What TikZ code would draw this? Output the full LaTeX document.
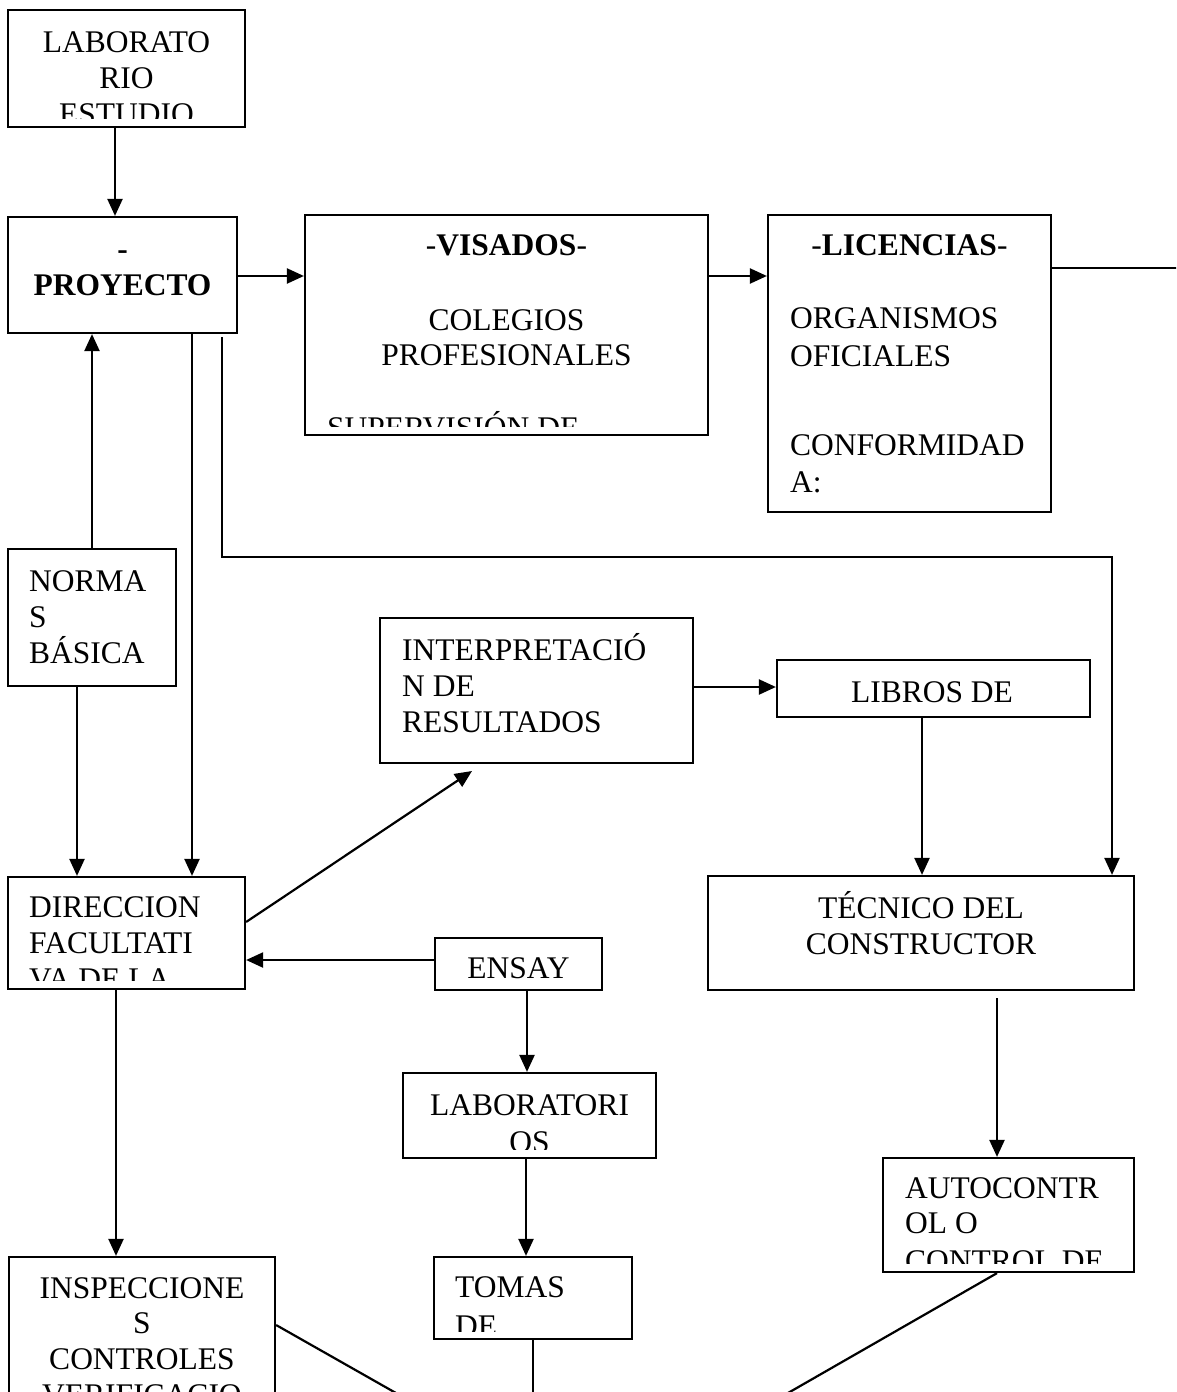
\documentclass[tikz,border=0pt]{standalone}
\usepackage{fontspec}
\setmainfont{Liberation Serif}
\usetikzlibrary{arrows.meta,fit,calc}
\begin{document}
\begin{tikzpicture}[x=1pt,y=-1pt,
  box/.style={draw, line width=2.2pt, inner sep=0pt, rectangle},
  txt/.style={inner sep=0pt, anchor=base, font=\fontsize{31.5}{36}\selectfont},
  txtl/.style={txt, anchor=base west},
  link/.style={line width=2.2pt},
  arr/.style={link, -{Triangle[length=17pt,width=15pt]}}]
\clip (0,0) rectangle (1176,1392);

% ---------- boxes ----------
\node[box, fit={(8,10) (245,127)}] (lab) {};
\node[box, fit={(8,217) (237,333)}] (proy) {};
\node[box, fit={(305,215) (708,435)}] (vis) {};
\node[box, fit={(768,215) (1051,512)}] (lic) {};
\node[box, fit={(8,549) (176,686)}] (norm) {};
\node[box, fit={(380,618) (693,763)}] (interp) {};
\node[box, fit={(777,660) (1090,717)}] (libros) {};
\node[box, fit={(8,877) (245,989)}] (dir) {};
\node[box, fit={(435,938) (602,990)}] (ens) {};
\node[box, fit={(708,876) (1134,990)}] (tec) {};
\node[box, fit={(403,1073) (656,1158)}] (labs) {};
\node[box, fit={(434,1257) (632,1339)}] (tomas) {};
\node[box, fit={(9,1257) (275,1430)}] (insp) {};
\node[box, fit={(883,1158) (1134,1272)}] (auto) {};

% ---------- box texts (cut off above the lower border) ----------
\begin{scope}
  \clip (lab.north west) rectangle ([yshift=10pt]lab.south east);
  \node[txt] (lab-a) at (126.5,52) {LABORATO};
  \node[txt] (lab-b) at (126.5,88) {RIO};
  \node[txt] (lab-c) at (126.5,124) {ESTUDIO};
\end{scope}
\begin{scope}
  \clip (proy.north west) rectangle ([yshift=10pt]proy.south east);
  \node[txt] (proy-a) at (122.5,259) {\textbf{-}};
  \node[txt] (proy-b) at (122.5,295) {\textbf{PROYECTO}};
\end{scope}
\begin{scope}
  \clip (vis.north west) rectangle ([yshift=10pt]vis.south east);
  \node[txt] (vis-a) at (506.5,255) {-\textbf{VISADOS}-};
  \node[txt] (vis-b) at (506.5,330) {COLEGIOS};
  \node[txt] (vis-c) at (506.5,365) {PROFESIONALES};
  \node[txtl] (vis-d) at (327,438) {SUPERVISIÓN DE};
\end{scope}
\begin{scope}
  \clip (lic.north west) rectangle ([yshift=10pt]lic.south east);
  \node[txt] (lic-a) at (909.5,255) {-\textbf{LICENCIAS}-};
  \node[txtl] (lic-b) at (790,328) {ORGANISMOS};
  \node[txtl] (lic-c) at (790,366) {OFICIALES};
  \node[txtl] (lic-d) at (790,455) {CONFORMIDAD};
  \node[txtl] (lic-e) at (790,492) {A:};
\end{scope}
\begin{scope}
  \clip (norm.north west) rectangle ([yshift=10pt]norm.south east);
  \node[txtl] (norm-a) at (29,591) {NORMA};
  \node[txtl] (norm-b) at (29,627) {S};
  \node[txtl] (norm-c) at (29,663) {BÁSICA};
\end{scope}
\begin{scope}
  \clip (interp.north west) rectangle ([yshift=10pt]interp.south east);
  \node[txtl] (interp-a) at (402,660) {INTERPRETACIÓ};
  \node[txtl] (interp-b) at (402,696) {N DE};
  \node[txtl] (interp-c) at (402,732) {RESULTADOS};
\end{scope}
\node[txt] (libros-a) at (932,702) {LIBROS DE};
\begin{scope}
  \clip (dir.north west) rectangle ([yshift=10pt]dir.south east);
  \node[txtl] (dir-a) at (29,917) {DIRECCION};
  \node[txtl] (dir-b) at (29,953) {FACULTATI};
  \node[txtl] (dir-c) at (29,989) {VA DE LA};
\end{scope}
\node[txt] (ens-a) at (518.5,978) {ENSAY};
\node[txt] (tec-a) at (921,918) {TÉCNICO DEL};
\node[txt] (tec-b) at (921,954) {CONSTRUCTOR};
\begin{scope}
  \clip (labs.north west) rectangle ([yshift=10pt]labs.south east);
  \node[txt] (labs-a) at (529.5,1115) {LABORATORI};
  \node[txt] (labs-b) at (529.5,1152) {OS};
\end{scope}
\begin{scope}
  \clip (tomas.north west) rectangle ([yshift=9pt]tomas.south east);
  \node[txtl] (tomas-a) at (455,1297) {TOMAS};
  \node[txtl] (tomas-b) at (455,1336) {DE};
\end{scope}
\node[txt] (insp-a) at (142,1298) {INSPECCIONE};
\node[txt] (insp-b) at (142,1333) {S};
\node[txt] (insp-c) at (142,1369) {CONTROLES};
\node[txt] (insp-d) at (142,1405) {VERIFICACIO};
\begin{scope}
  \clip (auto.north west) rectangle ([yshift=10pt]auto.south east);
  \node[txtl] (auto-a) at (905,1198) {AUTOCONTR};
  \node[txtl] (auto-b) at (905,1233) {OL O};
  \node[txtl] (auto-c) at (905,1271) {CONTROL DE};
\end{scope}

% ---------- guides for connector positions ----------
\coordinate (gx1) at (115,0);
\coordinate (gx2) at (92,0);
\coordinate (gx3) at (77,0);
\coordinate (gx4) at (192,0);
\coordinate (gx6) at (922,0);
\coordinate (gx7) at (527,0);
\coordinate (gx8) at (526,0);
\coordinate (gx9) at (116,0);
\coordinate (gx10) at (533,0);
\coordinate (gx11) at (997,0);
\coordinate (gy1) at (0,276);
\coordinate (gy2) at (0,268);
\coordinate (gy3) at (0,687);
\coordinate (gy4) at (0,922);
\coordinate (gy5) at (0,960);
\coordinate (gy6) at (0,1325);
\coordinate (licend) at (1190,268);
\coordinate (prstart) at (222,337);
\coordinate (bend1) at (222,557);
\coordinate (bend2) at (1112,557);
\coordinate (tecout) at (997,998);
\coordinate (interpin) at (472,771);
\coordinate (inspend) at (403,1397);
\coordinate (tomasend) at (533,1400);
\coordinate (autoend) at (781,1397);

% ---------- connectors ----------
\draw[arr] (lab.south -| gx1) -- (proy.north -| gx1);
\draw[arr] (proy.east |- gy1) -- (vis.west |- gy1);
\draw[arr] (vis.east |- gy1) -- (lic.west |- gy1);
\draw[link] (lic.east |- gy2) -- (licend);
\draw[arr] (norm.north -| gx2) -- (proy.south -| gx2);
\draw[arr] (norm.south -| gx3) -- (dir.north -| gx3);
\draw[arr] (proy.south -| gx4) -- (dir.north -| gx4);
\draw[arr] (prstart) -- (bend1) -- (bend2) -- (tec.north -| bend2);
\draw[arr] (interp.east |- gy3) -- (libros.west |- gy3);
\draw[arr] (libros.south -| gx6) -- (tec.north -| gx6);
\draw[arr] (dir.east |- gy4) -- (interpin);
\draw[arr] (ens.west |- gy5) -- (dir.east |- gy5);
\draw[arr] (ens.south -| gx7) -- (labs.north -| gx7);
\draw[arr] (labs.south -| gx8) -- (tomas.north -| gx8);
\draw[arr] (dir.south -| gx9) -- (insp.north -| gx9);
\draw[arr] (tecout) -- (auto.north -| tecout);
\draw[link] (insp.east |- gy6) -- (inspend);
\draw[link] (tomas.south -| gx10) -- (tomasend);
\draw[link] (auto.south -| gx11) -- (autoend);
\end{tikzpicture}
\end{document}
